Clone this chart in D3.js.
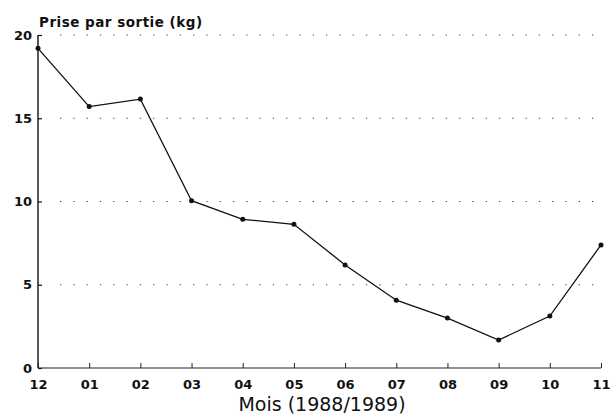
<!DOCTYPE html>
<html><head><meta charset="utf-8">
<script src="https://cdn.jsdelivr.net/npm/d3@7"></script>
<style>body{margin:0;background:#fff}svg{display:block}text{font-family:"DejaVu Sans",Arial,sans-serif;fill:#111}</style>
</head><body><svg id="c" width="613" height="418"></svg>
<script>
const months = ["12","01","02","03","04","05","06","07","08","09","10","11"];
const catch_kg = [19.2, 15.7, 16.15, 10.05, 8.93, 8.63, 6.19, 4.07, 3.0, 1.68, 3.12, 7.39];
const yTicks = [0, 5, 10, 15, 20];
const gridValues = [5, 10, 15, 20];
const yTitle = "Prise par sortie (kg)";
const xTitle = "Mois (1988/1989)";

const svg = d3.select("#c");
const x = d3.scalePoint().domain(months).range([38, 601]);
const y = d3.scaleLinear().domain([0, 20]).range([368, 35]);

// dotted grid
svg.append("g").selectAll("line").data(gridValues).join("line")
  .attr("x1", 60).attr("x2", 603)
  .attr("y1", d => y(d)).attr("y2", d => y(d))
  .attr("stroke", "#444").attr("stroke-width", 1.1)
  .attr("stroke-dasharray", "1.3,12");

// y axis
const ya = svg.append("g").attr("transform", "translate(38,0)")
  .call(d3.axisLeft(y).tickValues(yTicks).tickSize(-4).tickPadding(6).tickFormat(d3.format("d")));
ya.select(".domain").attr("stroke", "#111").attr("stroke-width", 1.4).attr("d", `M0,${y(20)}V${y(0)}`);
ya.selectAll(".tick line").attr("stroke", "#111").attr("stroke-width", 1.2);
ya.selectAll("text").style("font-size", "13px").style("font-weight", "bold").attr("fill", "#111");

// x axis
const xa = svg.append("g").attr("transform", `translate(0,${y(0)})`)
  .call(d3.axisBottom(x).tickSize(-5).tickPadding(12));
xa.select(".domain").attr("stroke", "#222").attr("stroke-width", 1).attr("d", `M${x("12")},0H${x("11")}`);
xa.selectAll(".tick line").attr("stroke", "#222");
xa.selectAll("text").style("font-size", "13px").style("font-weight", "bold").attr("fill", "#111").attr("dy", "0.71em");

// line
const line = d3.line().x((d, i) => x(months[i])).y(d => y(d));
svg.append("path").datum(catch_kg).attr("d", line)
  .attr("fill", "none").attr("stroke", "#111").attr("stroke-width", 1.3);
svg.append("g").selectAll("circle").data(catch_kg).join("circle")
  .attr("cx", (d, i) => x(months[i])).attr("cy", d => y(d)).attr("r", 2.5).attr("fill", "#111");

// titles
svg.append("text").attr("x", 39).attr("y", 27).text(yTitle)
  .style("font-size", "13.5px").style("font-weight", "bold").style("letter-spacing", "0.5px");
svg.append("text").attr("x", 322).attr("y", 411).attr("text-anchor", "middle").text(xTitle)
  .style("font-size", "19px");
</script></body></html>
